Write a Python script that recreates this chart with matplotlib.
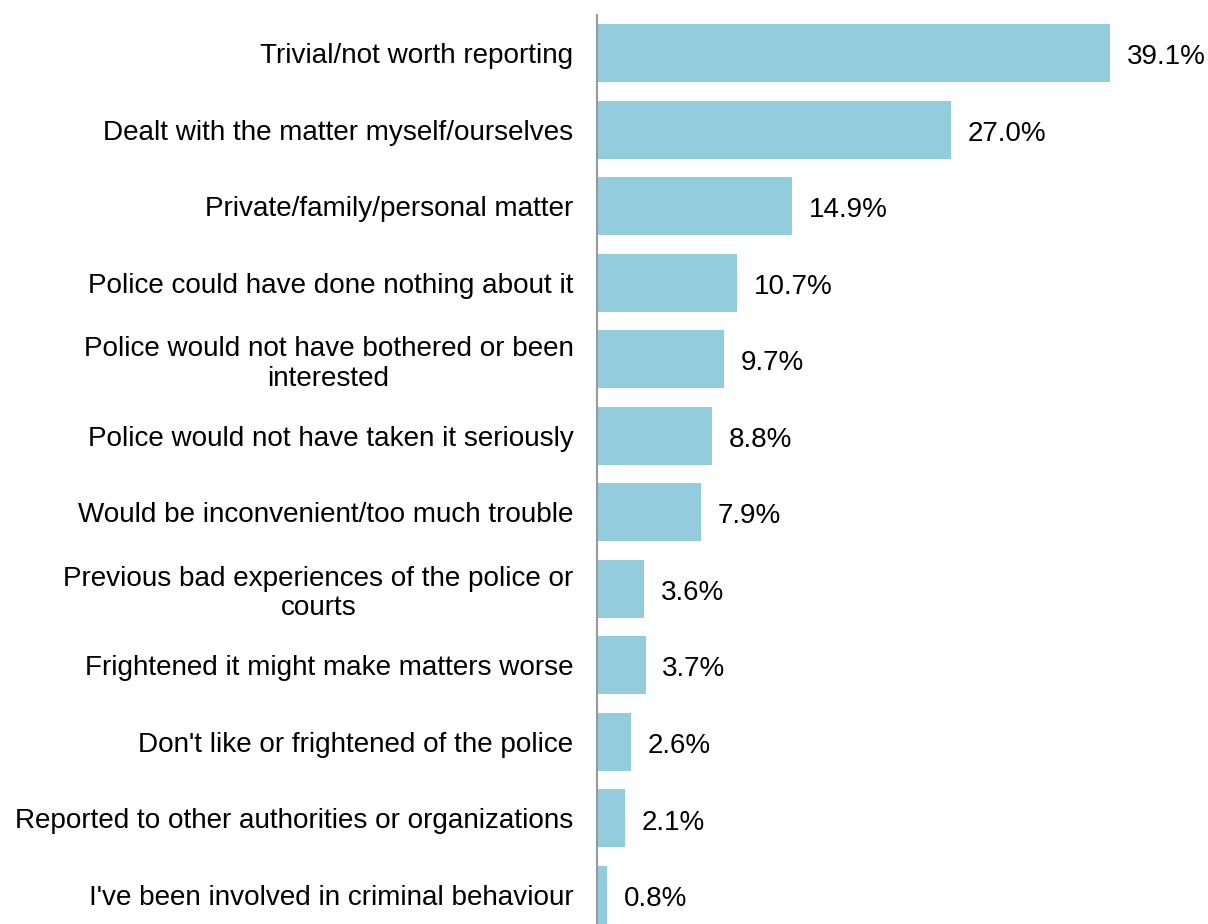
import matplotlib.pyplot as plt

plt.rcParams['font.family'] = ['Liberation Sans', 'DejaVu Sans']

reasons = [
    "Trivial/not worth reporting",
    "Dealt with the matter myself/ourselves",
    "Private/family/personal matter",
    "Police could have done nothing about it",
    "Police would not have bothered or been\ninterested",
    "Police would not have taken it seriously",
    "Would be inconvenient/too much trouble",
    "Previous bad experiences of the police or\ncourts",
    "Frightened it might make matters worse",
    "Don't like or frightened of the police",
    "Reported to other authorities or organizations",
    "I've been involved in criminal behaviour",
]
percent = [39.1, 27.0, 14.9, 10.7, 9.7, 8.8, 7.9, 3.6, 3.7, 2.6, 2.1, 0.8]

fig = plt.figure(figsize=(12.08, 9.24), dpi=100)
ax = fig.add_axes([0.4942, 0.0, 0.4344, 0.9838])

pos = list(range(len(reasons)))
ax.barh(pos, percent, height=0.758, color="#93CDDD")

# value labels to the right of each bar
for y, v in zip(pos, percent):
    ax.annotate(f"{v:.1f}%", (v, y), xytext=(12, -3), textcoords="offset points",
                va="center", ha="left", fontsize=20, color="#000000")

ax.set_xlim(0, 40)
ax.set_ylim(11.38, -0.497)
ax.set_yticks(pos)
ax.set_yticklabels(reasons, fontsize=20.1, multialignment="center", linespacing=1.18)
ax.tick_params(axis="y", length=0, pad=17)
ax.set_xticks([])

for s in ["top", "right", "bottom"]:
    ax.spines[s].set_visible(False)
ax.spines["left"].set_color("#999999")
ax.spines["left"].set_linewidth(1.5)

fig.savefig("out.png", dpi=100)
